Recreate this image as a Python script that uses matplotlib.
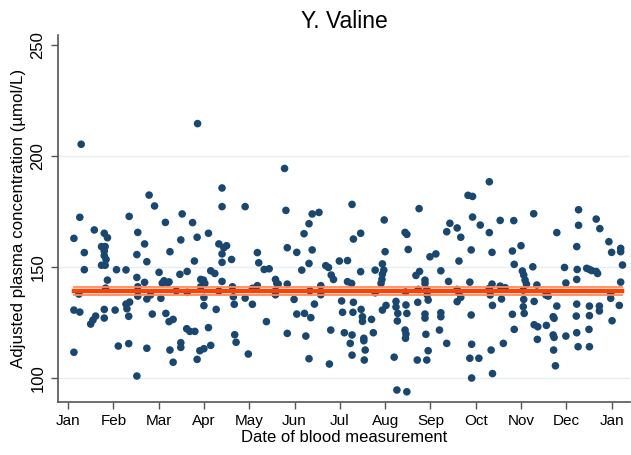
import numpy as np
import matplotlib.pyplot as plt

plt.rcParams['font.family'] = ['Liberation Sans', 'DejaVu Sans']

# measurement date in months since Jan 1, adjusted valine (umol/L)
month = [
    0.29, 2.86, 0.26, 1.35, 1.79, 1.91, 2.15, 2.52, 2.75, 3.40, 3.40, 3.91,
    4.78, 4.81, 5.32, 5.39, 5.54, 6.27, 6.98, 7.75, 8.43, 8.59, 8.83, 8.93,
    9.30, 8.93, 9.10, 9.54, 9.84, 10.28, 11.27, 11.27, 11.66, 11.74,
    0.13, 0.13, 0.13, 0.24, 0.26, 0.36, 0.36, 0.58, 0.50, 0.55, 0.61,
    0.80, 0.87, 0.74, 0.82, 0.80, 0.80, 0.74, 0.82, 0.84, 0.87, 0.83, 0.80, 0.80,
    1.04, 1.07, 1.11, 1.28, 1.28, 1.30, 1.36, 1.34, 1.34,
    1.52, 1.52, 1.52, 1.54, 1.54, 1.54, 1.54, 1.69, 1.69, 1.74, 1.74, 1.74,
    1.82, 1.86, 2.01, 2.05, 2.08, 2.12, 2.20, 2.23, 2.16, 2.23, 2.32, 2.25,
    2.25, 2.32, 2.39, 2.47, 2.49, 2.49, 2.49, 2.63, 2.63, 2.62, 2.69, 2.80,
    2.79, 2.85, 2.85, 2.91, 3.00, 3.15, 2.93, 2.99, 3.02, 2.93, 3.00, 3.00,
    3.10, 3.10, 3.15, 3.24, 3.27, 3.33, 3.33, 3.40, 3.40, 3.44, 3.50, 3.40,
    3.61, 3.63, 3.65, 3.67, 3.68, 3.71, 3.91, 3.98, 4.07, 4.07, 4.18, 4.18,
    4.21, 4.33, 4.44, 4.38, 4.58, 4.61, 4.58, 4.58, 4.64, 4.84, 4.84, 4.84,
    4.99, 5.05, 5.05, 5.16, 5.21, 5.22, 5.25, 5.32, 5.32, 5.34, 5.36, 5.39,
    5.44, 5.58, 5.58, 5.69, 5.75, 5.81, 5.86, 5.80, 5.77, 5.99, 6.17, 6.04,
    6.06, 6.10, 6.17, 6.26, 6.23, 6.27, 6.27, 6.30, 6.29, 6.30, 6.46, 6.46,
    6.47, 6.50, 6.50, 6.53, 6.53, 6.56, 6.54, 6.70, 6.74, 6.78, 6.78, 6.91,
    6.93, 6.94, 6.97, 6.94, 6.94, 7.00, 7.02, 7.20, 7.24, 7.24, 7.28, 7.27,
    7.26, 7.44, 7.48, 7.51, 7.45, 7.46, 7.48, 7.44, 7.46, 7.45, 7.48, 7.72,
    7.71, 7.68, 7.76, 7.73, 7.88, 7.88, 7.92, 7.93, 7.95, 7.88, 7.88, 7.90,
    7.95, 7.92, 7.99, 8.12, 8.23, 8.23, 8.23, 8.20, 8.36, 8.36, 8.40, 8.67,
    8.63, 8.59, 8.63, 8.67, 8.59, 8.87, 8.90, 8.90, 8.91, 8.87, 9.07, 8.91,
    9.30, 9.36, 9.36, 9.30, 9.32, 9.37, 9.34, 9.37, 9.54, 9.65, 9.57, 9.61,
    9.81, 9.85, 9.81, 9.85, 10.00, 10.03, 10.06, 10.09, 10.12, 10.05, 10.06,
    10.05, 10.07, 10.26, 10.35, 10.29, 10.29, 10.37, 10.36, 10.55, 10.60,
    10.56, 10.79, 10.79, 10.71, 10.73, 10.71, 10.73, 10.72, 10.76, 10.96,
    10.99, 10.99, 11.23, 11.24, 11.23, 11.23, 11.22, 11.23, 11.26, 11.45,
    11.51, 11.56, 11.66, 11.69, 11.51, 11.51, 11.50, 11.51, 11.73, 11.73,
    11.94, 12.00, 11.98, 11.98, 12.01, 12.20, 12.20, 12.24, 12.20, 12.17,
]
valine = [
    205.3, 214.6, 172.4, 172.8, 182.4, 177.5, 170.1, 173.9, 170.0, 185.6, 177.2, 177.2,
    194.4, 175.5, 169.5, 173.9, 174.6, 178.2, 171.2, 176.3, 169.7, 167.6, 182.3, 181.8,
    188.4, 172.5, 168.9, 171.0, 170.9, 174.0, 175.8, 168.8, 171.6, 167.3,
    162.9, 130.6, 111.6, 137.8, 129.7, 156.5, 148.8, 166.7, 124.3, 126.1, 127.9,
    165.2, 163.2, 159.2, 159.2, 157.2, 155.1, 150.8, 150.8, 153.4, 144.1, 140.5, 130.9, 127.0,
    130.6, 148.8, 114.4, 148.7, 133.3, 131.2, 134.2, 127.8, 115.5,
    100.9, 155.6, 145.3, 141.1, 139.3, 136.9, 165.6, 160.4, 143.1, 152.4, 135.6, 113.4,
    137.4, 128.8, 147.6, 135.9, 142.7, 143.8, 142.9, 143.3, 129.1, 125.4, 126.4, 156.9,
    112.6, 107.1, 139.3, 146.7, 162.2, 115.9, 113.8, 148.0, 138.6, 122.2, 121.0, 121.0,
    152.7, 163.4, 108.4, 112.3, 113.2, 114.7, 144.4, 144.1, 142.6, 141.1, 136.3, 132.6,
    165.2, 122.7, 148.3, 147.1, 130.9, 160.4, 139.2, 155.9, 152.1, 158.7, 159.6, 143.5,
    153.4, 141.1, 136.6, 133.2, 119.5, 116.1, 136.0, 110.8, 133.2, 140.4, 141.6, 156.5,
    151.9, 148.9, 149.2, 125.4, 144.4, 142.6, 139.3, 137.5, 142.3, 158.7, 142.3, 120.1,
    135.4, 156.6, 128.8, 148.6, 165.0, 129.1, 118.9, 151.6, 108.7, 139.3, 127.2, 157.7,
    133.3, 141.6, 137.5, 150.6, 149.8, 146.4, 144.4, 121.6, 106.3, 152.7, 152.9, 134.7,
    129.6, 120.4, 143.4, 142.6, 115.6, 119.4, 110.3, 134.1, 129.6, 162.6, 165.2, 147.9,
    130.9, 127.6, 125.5, 117.9, 116.8, 112.6, 108.1, 126.4, 120.4, 148.6, 138.4, 142.6,
    144.4, 146.8, 148.6, 151.4, 130.6, 156.9, 132.7, 109.4, 134.5, 132.0, 129.1, 125.7,
    94.6, 165.6, 164.7, 157.9, 138.7, 132.9, 129.1, 121.6, 119.8, 117.9, 93.8, 134.1,
    108.1, 146.2, 148.0, 139.9, 144.1, 142.6, 139.9, 137.4, 135.1, 128.8, 127.0, 119.7,
    112.3, 108.1, 154.6, 155.9, 148.3, 129.4, 127.6, 121.6, 165.9, 115.6, 143.5, 163.4,
    152.7, 139.9, 138.4, 136.3, 134.4, 143.2, 157.7, 128.4, 115.2, 108.9, 108.9, 100.0,
    165.5, 156.6, 142.3, 140.4, 137.4, 132.7, 112.6, 102.0, 141.4, 140.7, 135.6, 115.6,
    157.2, 151.2, 128.7, 121.9, 159.6, 148.2, 146.4, 144.1, 142.3, 139.6, 135.4,
    132.1, 129.1, 150.1, 141.9, 134.5, 124.0, 123.1, 117.4, 137.4, 136.9,
    123.7, 165.5, 132.4, 127.6, 126.9, 119.4, 118.3, 112.6, 105.5, 149.8,
    142.8, 118.9, 159.2, 148.9, 144.4, 133.3, 127.9, 120.4, 114.1, 149.4,
    148.9, 148.4, 148.0, 147.1, 132.4, 128.1, 121.9, 114.1, 132.4, 130.2,
    161.4, 156.6, 138.1, 135.9, 125.8, 158.4, 156.9, 150.9, 143.2, 132.7,
]

fit_mean = 139.2
fit_lo = 137.2
fit_hi = 141.1

month_labels = ['Jan', 'Feb', 'Mar', 'Apr', 'May', 'Jun', 'Jul',
                'Aug', 'Sep', 'Oct', 'Nov', 'Dec', 'Jan']

fig = plt.figure(figsize=(6.31, 4.55), dpi=100)
ax = fig.add_axes([0.092, 0.117, 0.906, 0.806])

ax.scatter(month, valine, s=30, color='#1a476f', edgecolors='none', zorder=3)

x0, x1 = min(month), max(month)
ax.plot([x0, x1], [fit_hi, fit_hi], color='#ff8a5c', lw=1.3, zorder=4)
ax.plot([x0, x1], [fit_lo, fit_lo], color='#ff8a5c', lw=1.3, zorder=4)
ax.plot([x0, x1], [fit_mean, fit_mean], color='#ff4000', lw=3.2, zorder=5)

ax.set_xlim(-0.22, 12.4)
ax.set_ylim(89.3, 254.5)
ax.set_xticks(range(13))
ax.set_xticklabels(month_labels, fontsize=11)
ax.set_yticks([100, 150, 200, 250])
ax.set_yticklabels(['100', '150', '200', '250'], fontsize=12, rotation=90, va='center')

for v in [100, 150, 200]:
    ax.axhline(v, color='#e6eff1', lw=1, zorder=1)

for s in ['top', 'right']:
    ax.spines[s].set_visible(False)
for s in ['left', 'bottom']:
    ax.spines[s].set_color('#555555')
    ax.spines[s].set_linewidth(1.2)
ax.tick_params(direction='out', length=5, width=1, color='#555555', pad=4)

ax.set_xlabel('Date of blood measurement', fontsize=12, labelpad=1)
ax.set_ylabel('Adjusted plasma concentration (µmol/L)', fontsize=12.2, labelpad=3)
ax.set_title('Y. Valine', fontsize=16.5, pad=5)

fig.savefig('out.png', dpi=100)
